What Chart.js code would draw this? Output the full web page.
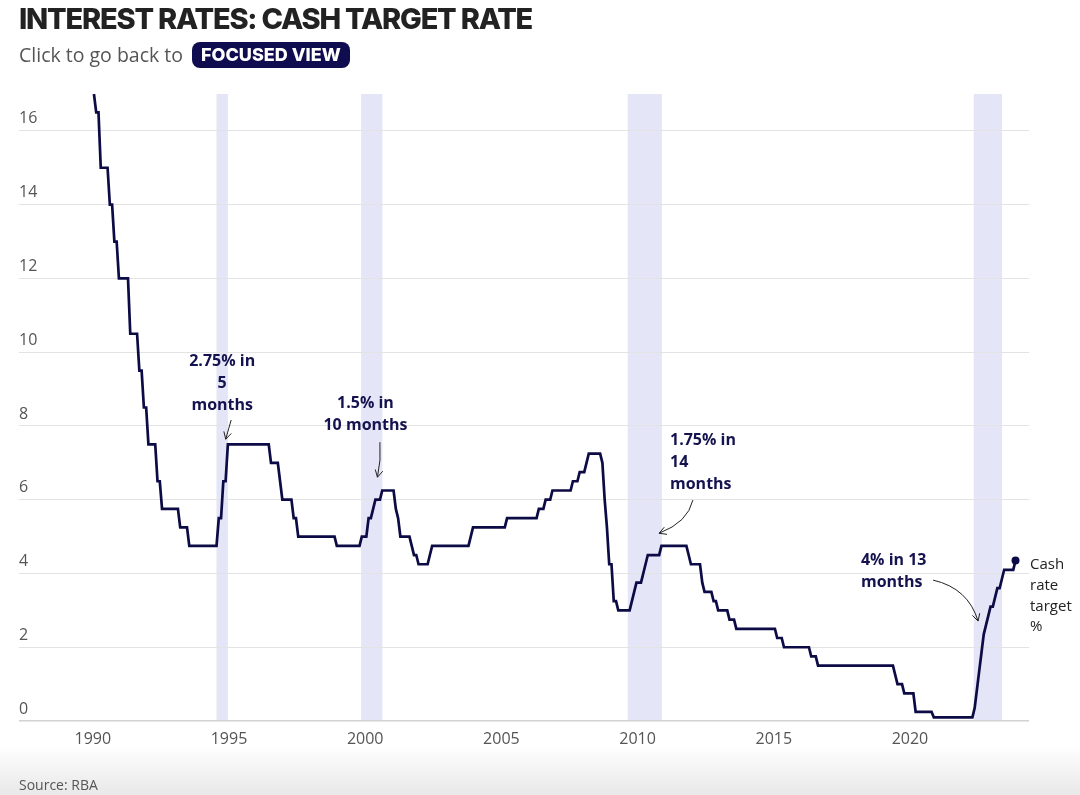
<!DOCTYPE html>
<html lang="en">
<head>
<meta charset="UTF-8">
<title>Interest rates: cash target rate</title>
<script src="https://cdn.jsdelivr.net/npm/chart.js"></script>
<style>
    * { margin: 0; padding: 0; box-sizing: border-box; }

    body {
        width: 1080px;
        height: 795px;
        background: #fff;
        font-family: "Open Sans", Arial, sans-serif;
        position: relative;
        overflow: hidden;
    }

    .shade {
        position: absolute;
        left: 0; right: 0; top: 745px; height: 50px;
        background: linear-gradient(#fff, #e8e8e8);
    }

    h1 {
        position: absolute;
        left: 19px; top: 1px;
        font-family: Inter, Roboto, sans-serif;
        font-weight: 800;
        font-size: 29px;
        letter-spacing: -1.2px;
        color: #222;
    }

    .sub {
        position: absolute;
        left: 19px; top: 41px;
        font-size: 19.5px;
        color: #555;
        display: flex;
        align-items: center;
    }

    .btn {
        margin-left: 9px;
        background: #0f0c4f;
        color: #fff;
        font-family: Inter, Roboto, sans-serif;
        font-weight: 800;
        font-size: 18px;
        border-radius: 8px;
        padding: 2px 9px 3px;
    }

    .chart-box {
        position: absolute;
        left: 0; top: 0;
        width: 1080px; height: 795px;
    }

    .source {
        position: absolute;
        left: 19px; top: 775px;
        font-size: 14px;
        color: #555;
    }
</style>
</head>
<body>
    <div class="shade"></div>
    <div class="chart-box"><canvas id="cashChart"></canvas></div>
    <h1>INTEREST RATES: CASH TARGET RATE</h1>
    <div class="sub">Click to go back to <span class="btn">FOCUSED VIEW</span></div>
    <div class="source">Source: RBA</div>
<script>
    // Monthly cash rate target (%), Jan 1990 onwards
    const startYear = 1990;

    const rates1990s = [
        17, 16.5, 16.5, 15, 15, 15, 15, 14, 14, 13, 13, 12,
        12, 12, 12, 12, 10.5, 10.5, 10.5, 10.5, 9.5, 9.5, 8.5, 8.5,
        7.5, 7.5, 7.5, 7.5, 6.5, 6.5, 5.75, 5.75, 5.75, 5.75, 5.75, 5.75,
        5.75, 5.75, 5.25, 5.25, 5.25, 5.25, 4.75, 4.75, 4.75, 4.75, 4.75, 4.75,
        4.75, 4.75, 4.75, 4.75, 4.75, 4.75, 4.75, 5.5, 5.5, 6.5, 6.5, 7.5,
        7.5, 7.5, 7.5, 7.5, 7.5, 7.5, 7.5, 7.5, 7.5, 7.5, 7.5, 7.5,
        7.5, 7.5, 7.5, 7.5, 7.5, 7.5, 7, 7, 7, 7, 6.5, 6,
        6, 6, 6, 6, 5.5, 5.5, 5, 5, 5, 5, 5, 5,
        5, 5, 5, 5, 5, 5, 5, 5, 5, 5, 5, 4.75,
        4.75, 4.75, 4.75, 4.75, 4.75, 4.75, 4.75, 4.75, 4.75, 4.75, 5, 5
    ];

    const rates2000s = [
        5, 5.5, 5.5, 5.75, 6, 6, 6, 6.25, 6.25, 6.25, 6.25, 6.25,
        6.25, 5.75, 5.5, 5, 5, 5, 5, 5, 4.75, 4.5, 4.5, 4.25,
        4.25, 4.25, 4.25, 4.25, 4.5, 4.75, 4.75, 4.75, 4.75, 4.75, 4.75, 4.75,
        4.75, 4.75, 4.75, 4.75, 4.75, 4.75, 4.75, 4.75, 4.75, 4.75, 5, 5.25,
        5.25, 5.25, 5.25, 5.25, 5.25, 5.25, 5.25, 5.25, 5.25, 5.25, 5.25, 5.25,
        5.25, 5.25, 5.5, 5.5, 5.5, 5.5, 5.5, 5.5, 5.5, 5.5, 5.5, 5.5,
        5.5, 5.5, 5.5, 5.5, 5.75, 5.75, 5.75, 6, 6, 6, 6.25, 6.25,
        6.25, 6.25, 6.25, 6.25, 6.25, 6.25, 6.25, 6.5, 6.5, 6.5, 6.75, 6.75,
        6.75, 7, 7.25, 7.25, 7.25, 7.25, 7.25, 7.25, 7, 6, 5.25, 4.25,
        4.25, 3.25, 3.25, 3, 3, 3, 3, 3, 3, 3.25, 3.5, 3.75
    ];

    const rates2010s = [
        3.75, 3.75, 4, 4.25, 4.5, 4.5, 4.5, 4.5, 4.5, 4.5, 4.75, 4.75,
        4.75, 4.75, 4.75, 4.75, 4.75, 4.75, 4.75, 4.75, 4.75, 4.75, 4.5, 4.25,
        4.25, 4.25, 4.25, 4.25, 3.75, 3.5, 3.5, 3.5, 3.5, 3.25, 3.25, 3,
        3, 3, 3, 3, 2.75, 2.75, 2.75, 2.5, 2.5, 2.5, 2.5, 2.5,
        2.5, 2.5, 2.5, 2.5, 2.5, 2.5, 2.5, 2.5, 2.5, 2.5, 2.5, 2.5,
        2.5, 2.25, 2.25, 2.25, 2, 2, 2, 2, 2, 2, 2, 2,
        2, 2, 2, 2, 1.75, 1.75, 1.75, 1.5, 1.5, 1.5, 1.5, 1.5,
        1.5, 1.5, 1.5, 1.5, 1.5, 1.5, 1.5, 1.5, 1.5, 1.5, 1.5, 1.5,
        1.5, 1.5, 1.5, 1.5, 1.5, 1.5, 1.5, 1.5, 1.5, 1.5, 1.5, 1.5,
        1.5, 1.5, 1.5, 1.5, 1.5, 1.25, 1, 1, 1, 0.75, 0.75, 0.75
    ];

    const rates2020s = [
        0.75, 0.75, 0.25, 0.25, 0.25, 0.25, 0.25, 0.25, 0.25, 0.25, 0.1, 0.1,
        0.1, 0.1, 0.1, 0.1, 0.1, 0.1, 0.1, 0.1, 0.1, 0.1, 0.1, 0.1,
        0.1, 0.1, 0.1, 0.1, 0.35, 0.85, 1.35, 1.85, 2.35, 2.6, 2.85, 3.1,
        3.1, 3.35, 3.6, 3.6, 3.85, 4.1, 4.1, 4.1, 4.1, 4.1, 4.35
    ];

    const xTicks = [1990, 1995, 2000, 2005, 2010, 2015, 2020];
    const yTicks = [0, 2, 4, 6, 8, 10, 12, 14, 16];

    // Hiking periods (shaded bands), decimal years
    const hikeStart = [1994.54, 1999.85, 2009.64, 2022.34];
    const hikeEnd = [1994.96, 2000.63, 2010.89, 2023.38];
    const hikeNotes = [
        ["2.75% in", "5", "months"],
        ["1.5% in", "10 months"],
        ["1.75% in", "14", "months"],
        ["4% in 13", "months"]
    ];
    const seriesLabel = ["Cash", "rate", "target", "%"];

    // where each note sits, in axis units; arrow = start, bend, tip
    const noteLayout = [
        { x: 1994.75, y: 9.76, align: "center", arrow: [1995.08, 8.16, 1994.99, 7.94, 1994.88, 7.64] },
        { x: 2000.01, y: 8.62, align: "center", arrow: [2000.54, 7.56, 2000.59, 7.07, 2000.45, 6.61] },
        { x: 2011.19, y: 7.61, align: "left", arrow: [2012.03, 5.99, 2011.85, 5.39, 2010.79, 5.09] },
        { x: 2018.20, y: 4.34, align: "left", arrow: [2020.85, 3.82, 2022.14, 3.60, 2022.50, 2.71] }
    ];

    const navy = "#0c0b45";
    const cashRate = rates1990s.concat(rates2000s, rates2010s, rates2020s);
    // each monthly value sits at mid-month
    const points = cashRate.map((v, i) => ({ x: startYear + (i + 0.5) / 12, y: v }));

    // shaded bands behind the grid
    const bandsPlugin = {
        id: "bands",
        beforeDraw(chart) {
            const { ctx, chartArea, scales } = chart;
            ctx.save();
            ctx.fillStyle = "#e4e5f7";
            hikeStart.forEach((s, i) => {
                const x0 = scales.x.getPixelForValue(s);
                const x1 = scales.x.getPixelForValue(hikeEnd[i]);
                ctx.fillRect(x0, chartArea.top, x1 - x0, chartArea.bottom - chartArea.top);
            });
            ctx.restore();
        }
    };

    // notes, arrows and the series label
    const notesPlugin = {
        id: "notes",
        afterDatasetsDraw(chart) {
            const { ctx, chartArea, scales } = chart;
            const px = v => scales.x.getPixelForValue(v);
            const py = v => scales.y.getPixelForValue(v);
            ctx.save();
            ctx.font = "700 16px 'Open Sans', Arial, sans-serif";
            ctx.fillStyle = "#14134f";
            ctx.textBaseline = "middle";
            noteLayout.forEach((n, i) => {
                ctx.textAlign = n.align;
                hikeNotes[i].forEach((line, j) => {
                    ctx.fillText(line, px(n.x), py(n.y) + j * 22);
                });
                const a = n.arrow;
                const sx = px(a[0]), sy = py(a[1]);
                const cx = px(a[2]), cy = py(a[3]);
                const ex = px(a[4]), ey = py(a[5]);
                ctx.strokeStyle = "#222";
                ctx.lineWidth = 1;
                ctx.beginPath();
                ctx.moveTo(sx, sy);
                ctx.quadraticCurveTo(cx, cy, ex, ey);
                ctx.stroke();
                const ang = Math.atan2(ey - cy, ex - cx);
                ctx.beginPath();
                ctx.moveTo(ex - 8 * Math.cos(ang - 0.5), ey - 8 * Math.sin(ang - 0.5));
                ctx.lineTo(ex, ey);
                ctx.lineTo(ex - 8 * Math.cos(ang + 0.5), ey - 8 * Math.sin(ang + 0.5));
                ctx.stroke();
            });

            ctx.font = "15px 'Open Sans', Arial, sans-serif";
            ctx.fillStyle = "#222";
            ctx.textAlign = "left";
            seriesLabel.forEach((line, j) => {
                ctx.fillText(line, chartArea.right + 1, py(4.23) + j * 20.7);
            });
            ctx.restore();
        }
    };

    new Chart(document.getElementById("cashChart"), {
        type: "line",
        data: {
            datasets: [{
                label: "Cash rate target %",
                data: points,
                borderColor: navy,
                borderWidth: 2.7,
                tension: 0,
                pointRadius: ctx => ctx.dataIndex === cashRate.length - 1 ? 4 : 0,
                pointBackgroundColor: navy,
                pointBorderColor: navy,
                pointBorderWidth: 0
            }]
        },
        options: {
            responsive: true,
            maintainAspectRatio: false,
            animation: false,
            layout: { padding: { left: 19, right: 51, top: 94, bottom: 34 } },
            plugins: {
                legend: { display: false },
                tooltip: { enabled: false }
            },
            scales: {
                x: {
                    type: "linear",
                    min: 1987.29,
                    max: 2024.37,
                    afterBuildTicks: scale => { scale.ticks = xTicks.map(v => ({ value: v })); },
                    afterFit: scale => { scale.height = 40; },
                    grid: { display: false, drawTicks: false },
                    border: { display: false },
                    ticks: {
                        callback: v => String(v),
                        color: "#555",
                        font: { family: "'Open Sans', Arial, sans-serif", size: 16 },
                        padding: 9,
                        maxRotation: 0,
                        autoSkip: false
                    }
                },
                y: {
                    min: 0,
                    max: 17,
                    afterBuildTicks: scale => { scale.ticks = yTicks.map(v => ({ value: v })); },
                    afterFit: scale => { scale.width = 0; },
                    grid: {
                        drawTicks: false,
                        color: ctx => ctx.tick && ctx.tick.value === 0 ? "#d2d2d2" : "#e3e3e3",
                        lineWidth: ctx => ctx.tick && ctx.tick.value === 0 ? 1.5 : 1
                    },
                    border: { display: false },
                    ticks: {
                        mirror: true,
                        padding: 0,
                        labelOffset: -12,
                        color: "#555",
                        font: { family: "'Open Sans', Arial, sans-serif", size: 16 }
                    }
                }
            }
        },
        plugins: [bandsPlugin, notesPlugin]
    });
</script>
</body>
</html>
